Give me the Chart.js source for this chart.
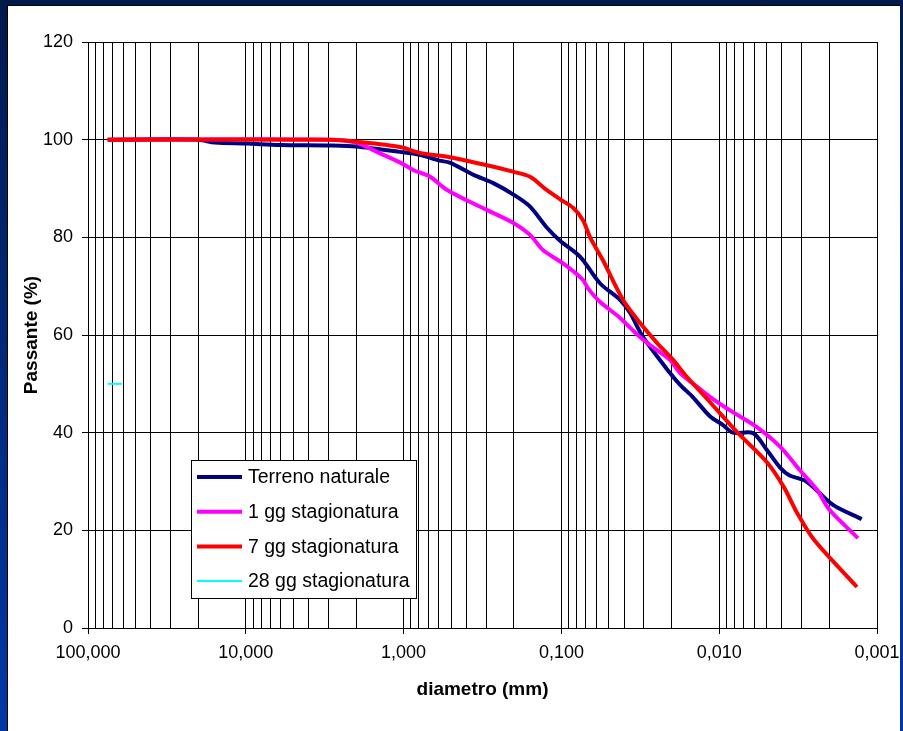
<!DOCTYPE html>
<html>
<head>
<meta charset="utf-8">
<script src="https://cdn.jsdelivr.net/npm/chart.js@4/dist/chart.umd.min.js"></script>
<style>
  html, body { margin: 0; padding: 0; }
  body { width: 903px; height: 731px; background: linear-gradient(#001a4d, #0038a8); position: relative; overflow: hidden; }
  #cornice { position: absolute; left: 7px; top: 5px; width: 893px; height: 726px; background: #fff;
             border-left: 1px solid #000; border-top: 1px solid #000; box-sizing: border-box; }
  #contenitore { position: absolute; left: 0; top: 0; width: 892px; height: 725px; }
</style>
</head>
<body>
<div id="cornice"><div id="contenitore"><canvas id="granulometriaCanvas"></canvas></div></div>
<script>
// diametri (mm) e passante (%)
const diamTerreno = [75, 20, 15.7, 9.8, 6.1, 2.9, 2.0, 1.05, 0.79, 0.59, 0.51, 0.36, 0.27, 0.20, 0.158, 0.123, 0.102, 0.076, 0.057, 0.0425, 0.0367, 0.0304, 0.0205, 0.0177, 0.0147, 0.0114, 0.0095, 0.0082, 0.0061, 0.0050, 0.0041, 0.0036, 0.0028, 0.0019, 0.00125];
const passTerreno = [100, 100, 99.4, 99.2, 98.9, 98.8, 98.6, 97.5, 96.9, 95.7, 95.3, 92.8, 91.1, 88.7, 86.3, 81.9, 79.3, 76.0, 70.6, 67.2, 64.5, 59.6, 52.2, 49.8, 47.3, 43.3, 41.6, 40.0, 39.9, 36.5, 32.8, 31.3, 30.0, 25.2, 22.3];

const diam1gg = [75, 2.9, 2.0, 1.41, 1.05, 0.87, 0.68, 0.53, 0.33, 0.20, 0.158, 0.131, 0.098, 0.073, 0.068, 0.057, 0.0425, 0.0318, 0.0248, 0.0205, 0.0177, 0.0138, 0.0114, 0.0082, 0.0058, 0.0041, 0.0031, 0.0024, 0.0020, 0.00132];
const pass1gg = [100, 100, 99.4, 97.2, 95.3, 93.8, 92.4, 89.7, 86.3, 82.9, 80.5, 77.4, 74.7, 71.3, 69.6, 66.8, 63.5, 59.6, 56.9, 54.9, 52.2, 49.4, 47.3, 44.2, 41.2, 37.1, 32.4, 28.3, 24.2, 18.4];

const diam7gg = [75, 2.9, 2.0, 1.05, 0.79, 0.51, 0.30, 0.20, 0.158, 0.124, 0.102, 0.084, 0.073, 0.066, 0.057, 0.0545, 0.0407, 0.0318, 0.0248, 0.0196, 0.0160, 0.0120, 0.0077, 0.0050, 0.0039, 0.0032, 0.0025, 0.00134];
const pass7gg = [100, 100, 99.6, 98.5, 97.3, 96.4, 94.8, 93.4, 92.4, 89.7, 87.8, 86.0, 83.5, 80.1, 76.4, 75.3, 67.2, 62.5, 58.4, 54.9, 51.4, 47.0, 40.1, 34.0, 28.9, 23.5, 18.0, 8.4];

const diam28gg = [75, 61];
const pass28gg = [50, 50];

const decadi = [100, 10, 1, 0.1, 0.01, 0.001];
const passanteTicks = [0, 20, 40, 60, 80, 100, 120];

const punti = (d, p) => d.map((v, i) => ({ x: v, y: p[i] }));

// tacche: 1..9 per ogni decade
const tutteTacche = [];
decadi.slice(1).forEach(dec => { for (let m = 1; m <= 9; m++) tutteTacche.push(+(m * dec).toPrecision(3)); });
tutteTacche.push(100);

const isDecade = v => decadi.some(d => Math.abs(v - d) / d < 1e-6);

const legendaBox = {
    id: 'legendaBox',
    afterDraw(chart) {
        const ctx = chart.ctx;
        const x = 183, y = 454, w = 225, h = 138;
        ctx.save();
        ctx.fillStyle = '#fff';
        ctx.fillRect(x, y, w, h);
        ctx.strokeStyle = '#000';
        ctx.lineWidth = 1;
        ctx.strokeRect(x + 0.5, y + 0.5, w, h);
        chart.data.datasets.forEach((ds, i) => {
            const cy = y + 17 + i * 34.7;
            ctx.strokeStyle = ds.borderColor;
            ctx.lineWidth = ds.borderWidth;
            ctx.beginPath();
            ctx.moveTo(x + 6, cy);
            ctx.lineTo(x + 51, cy);
            ctx.stroke();
            ctx.fillStyle = '#000';
            ctx.font = '19.5px "Liberation Sans", Arial, sans-serif';
            ctx.textBaseline = 'middle';
            ctx.fillText(ds.label, x + 57, cy + 1);
        });
        ctx.restore();
    }
};

const ctx = document.getElementById('granulometriaCanvas').getContext('2d');
new Chart(ctx, {
    type: 'line',
    data: {
        datasets: [{
            label: 'Terreno naturale',
            data: punti(diamTerreno, passTerreno),
            borderColor: '#000080',
            borderWidth: 4,
            order: 4
        }, {
            label: '1 gg stagionatura',
            data: punti(diam1gg, pass1gg),
            borderColor: '#ff00ff',
            borderWidth: 4,
            order: 3
        }, {
            label: '7 gg stagionatura',
            data: punti(diam7gg, pass7gg),
            borderColor: '#ff0000',
            borderWidth: 4,
            order: 2
        }, {
            label: '28 gg stagionatura',
            data: punti(diam28gg, pass28gg),
            borderColor: '#00ffff',
            borderWidth: 2,
            order: 1
        }]
    },
    options: {
        responsive: true,
        maintainAspectRatio: false,
        animation: false,
        layout: { padding: { left: 0, top: 36, right: 23, bottom: 0 } },
        elements: {
            point: { radius: 0 },
            line: { tension: 0.3, fill: false }
        },
        plugins: {
            legend: { display: false },
            tooltip: { enabled: false }
        },
        scales: {
            x: {
                type: 'logarithmic',
                reverse: true,
                min: 0.001,
                max: 100,
                afterBuildTicks: scale => { scale.ticks = tutteTacche.map(v => ({ value: v })); },
                afterFit: scale => { scale.height = 103; },
                border: { color: '#000', width: 1 },
                grid: {
                    color: '#000',
                    lineWidth: 1,
                    tickLength: 6,
                    tickColor: c => (c.tick && isDecade(c.tick.value)) ? '#000' : 'rgba(0,0,0,0)'
                },
                ticks: {
                    autoSkip: false,
                    maxRotation: 0,
                    padding: 8,
                    color: '#000',
                    font: { family: '"Liberation Sans", Arial, sans-serif', size: 18 },
                    callback: v => isDecade(v) ? v.toFixed(3).replace('.', ',') : ''
                },
                title: {
                    display: true,
                    text: 'diametro (mm)',
                    color: '#000',
                    font: { family: '"Liberation Sans", Arial, sans-serif', size: 19, weight: 'bold' },
                    padding: { top: 4, bottom: 30 }
                }
            },
            y: {
                min: 0,
                max: 120,
                afterBuildTicks: scale => { scale.ticks = passanteTicks.map(v => ({ value: v })); },
                afterFit: scale => { scale.width = 80; },
                border: { color: '#000', width: 1 },
                grid: { color: '#000', lineWidth: 1, tickLength: 6, tickColor: '#000' },
                ticks: {
                    padding: 9,
                    color: '#000',
                    font: { family: '"Liberation Sans", Arial, sans-serif', size: 18 }
                },
                title: {
                    display: true,
                    text: 'Passante (%)',
                    color: '#000',
                    font: { family: '"Liberation Sans", Arial, sans-serif', size: 19, weight: 'bold' },
                    padding: { top: 12, bottom: 0 }
                }
            }
        }
    },
    plugins: [legendaBox]
});
</script>
</body>
</html>
